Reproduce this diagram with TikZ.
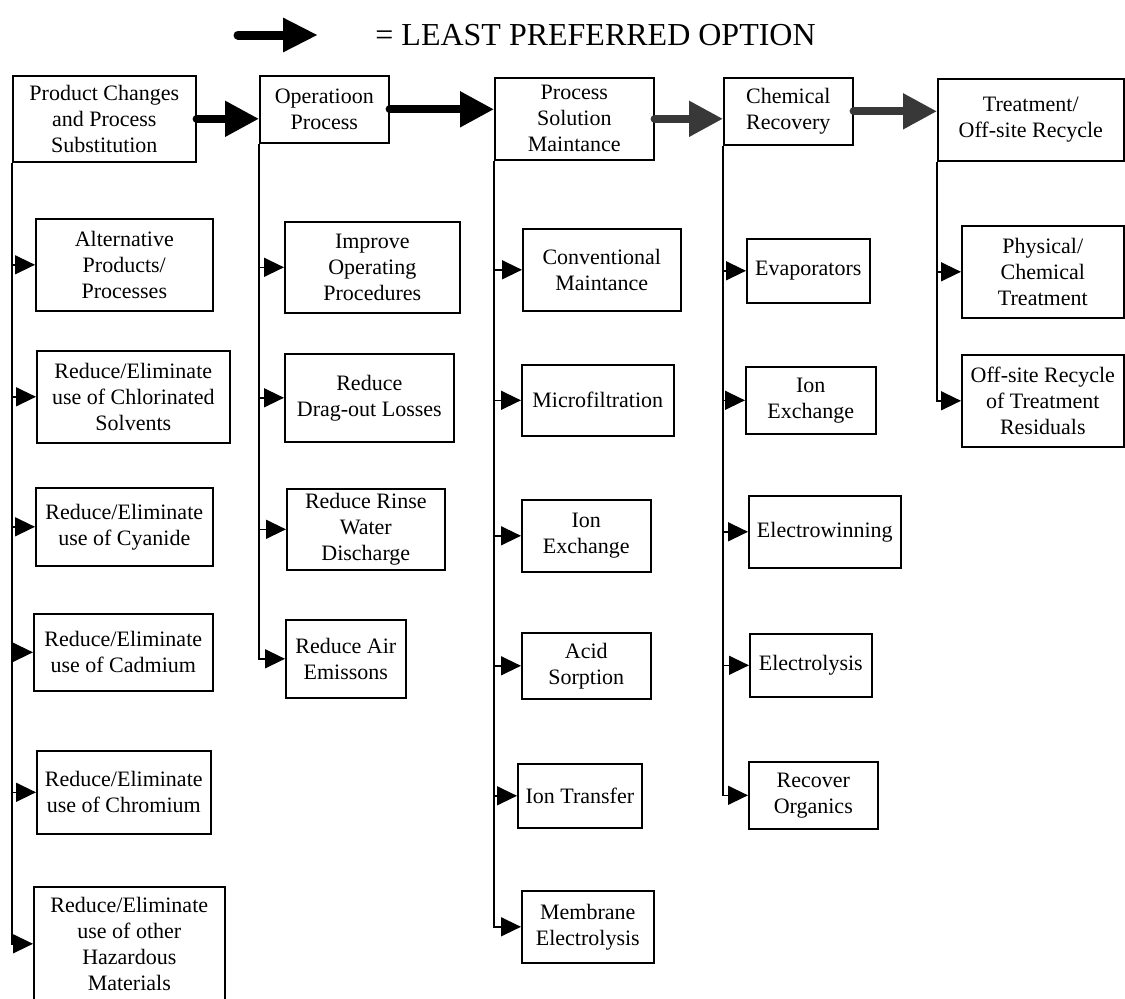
\documentclass[tikz,border=0pt]{standalone}
\usepackage{fontspec}
\setmainfont{Liberation Serif}
\usetikzlibrary{arrows.meta}

\begin{document}
\begin{tikzpicture}[x=0.5pt, y=-0.5pt,
    optbox/.style={draw, line width=0.8pt, align=center, inner sep=0pt,
      anchor=north west, font=\fontsize{11}{13}\selectfont},
    feed/.style={line width=0.7pt, -{Triangle[length=10pt, width=9.5pt]}},
    bigarrow/.style={line width=4pt, line cap=round, -{Triangle[length=17pt, width=17pt]}}]
                \useasboundingbox (0,0) rectangle (1125,998);

                % Legend
                \coordinate (lgA) at (238,35);
                \coordinate (lgB) at (318,35);
                \draw[bigarrow, line width=4.5pt, -{Triangle[length=17.5pt, width=16pt]}] (lgA) -- (lgB);
                \node[anchor=west, inner sep=0pt, font=\fontsize{16}{18}\selectfont] (lgtext) at (375,35) {= LEAST PREFERRED OPTION};

                % Main options
                \node[optbox, minimum width=91.5pt, minimum height=43pt] (h1) at (12,75) {Product Changes\\and Process\\Substitution};
                \node[optbox, minimum width=64.5pt, minimum height=33.5pt] (h2) at (259,75) {Operatioon\\Process};
                \node[optbox, minimum width=79.5pt, minimum height=41pt] (h3) at (494,77) {Process\\Solution\\Maintance};
                \node[optbox, minimum width=64.5pt, minimum height=33.5pt] (h4) at (723,77) {Chemical\\Recovery};
                \node[optbox, minimum width=93pt, minimum height=41pt] (h5) at (937,78) {Treatment/\\Off-site Recycle};

                \draw[bigarrow] (h1.east) -- (h1.east -| h2.west);
                \draw[bigarrow] (h2.east) -- (h2.east -| h3.west);
                \draw[bigarrow, black!78] (h3.east) -- (h3.east -| h4.west);
                \draw[bigarrow, black!78] (h4.east) -- (h4.east -| h5.west);

                % Product changes
                \node[optbox, minimum width=88.5pt, minimum height=46pt] (c1a) at (35,218) {Alternative\\Products/\\Processes};
                \node[optbox, minimum width=96.5pt, minimum height=46pt] (c1b) at (36,350) {Reduce/Eliminate\\use of Chlorinated\\Solvents};
                \node[optbox, minimum width=88.5pt, minimum height=39pt] (c1c) at (35,487) {Reduce/Eliminate\\use of Cyanide};
                \node[optbox, minimum width=89.5pt, minimum height=38.5pt] (c1d) at (33,613) {Reduce/Eliminate\\use of Cadmium};
                \node[optbox, minimum width=87pt, minimum height=41.5pt] (c1e) at (36,750) {Reduce/Eliminate\\use of Chromium};
                \node[optbox, minimum width=95.5pt, minimum height=57pt] (c1f) at (33,886) {Reduce/Eliminate\\use of other\\Hazardous\\Materials};
                \foreach \n in {c1a,c1b,c1c,c1d,c1e,c1f}
                  \draw[feed] (h1.south west) |- (\n.west);

                % Operation process
                \node[optbox, minimum width=87.5pt, minimum height=45.5pt] (c2a) at (284,221) {Improve\\Operating\\Procedures};
                \node[optbox, minimum width=84.5pt, minimum height=44pt] (c2b) at (284,353) {Reduce\\Drag-out Losses};
                \node[optbox, minimum width=79pt, minimum height=40.5pt] (c2c) at (286,488) {Reduce Rinse\\Water\\Discharge};
                \node[optbox, minimum width=60pt, minimum height=39pt] (c2d) at (285,619) {Reduce Air\\Emissons};
                \foreach \n in {c2a,c2b,c2c,c2d}
                  \draw[feed] (h2.south west) |- (\n.west);

                % Process solution maintance
                \node[optbox, minimum width=79pt, minimum height=41pt] (c3a) at (522,228) {Conventional\\Maintance};
                \node[optbox, minimum width=76pt, minimum height=35.5pt] (c3b) at (521,364) {Microfiltration};
                \node[optbox, minimum width=64.5pt, minimum height=36pt] (c3c) at (521,499) {Ion\\Exchange};
                \node[optbox, minimum width=64.5pt, minimum height=33pt] (c3d) at (521,632) {Acid\\Sorption};
                \node[optbox, minimum width=62pt, minimum height=32pt] (c3e) at (517,763) {Ion Transfer};
                \node[optbox, minimum width=66pt, minimum height=36pt] (c3f) at (521,890) {Membrane\\Electrolysis};
                \foreach \n in {c3a,c3b,c3c,c3d,c3e,c3f}
                  \draw[feed] (h3.south west) |- (\n.west);

                % Chemical recovery
                \node[optbox, minimum width=61.5pt, minimum height=32pt] (c4a) at (746,238) {Evaporators};
                \node[optbox, minimum width=65pt, minimum height=33.5pt] (c4b) at (745,366) {Ion\\Exchange};
                \node[optbox, minimum width=76pt, minimum height=36pt] (c4c) at (748,495) {Electrowinning};
                \node[optbox, minimum width=61pt, minimum height=31.5pt] (c4d) at (749,633) {Electrolysis};
                \node[optbox, minimum width=64.5pt, minimum height=33.5pt] (c4e) at (748,761) {Recover\\Organics};
                \foreach \n in {c4a,c4b,c4c,c4d,c4e}
                  \draw[feed] (h4.south west) |- (\n.west);

                % Treatment
                \node[optbox, minimum width=81pt, minimum height=46pt] (c5a) at (961,225) {Physical/\\Chemical\\Treatment};
                \node[optbox, minimum width=81pt, minimum height=46pt] (c5b) at (961,354) {Off-site Recycle\\of Treatment\\Residuals};
                \foreach \n in {c5a,c5b}
                  \draw[feed] (h5.south west) |- (\n.west);
            \end{tikzpicture}
\end{document}
